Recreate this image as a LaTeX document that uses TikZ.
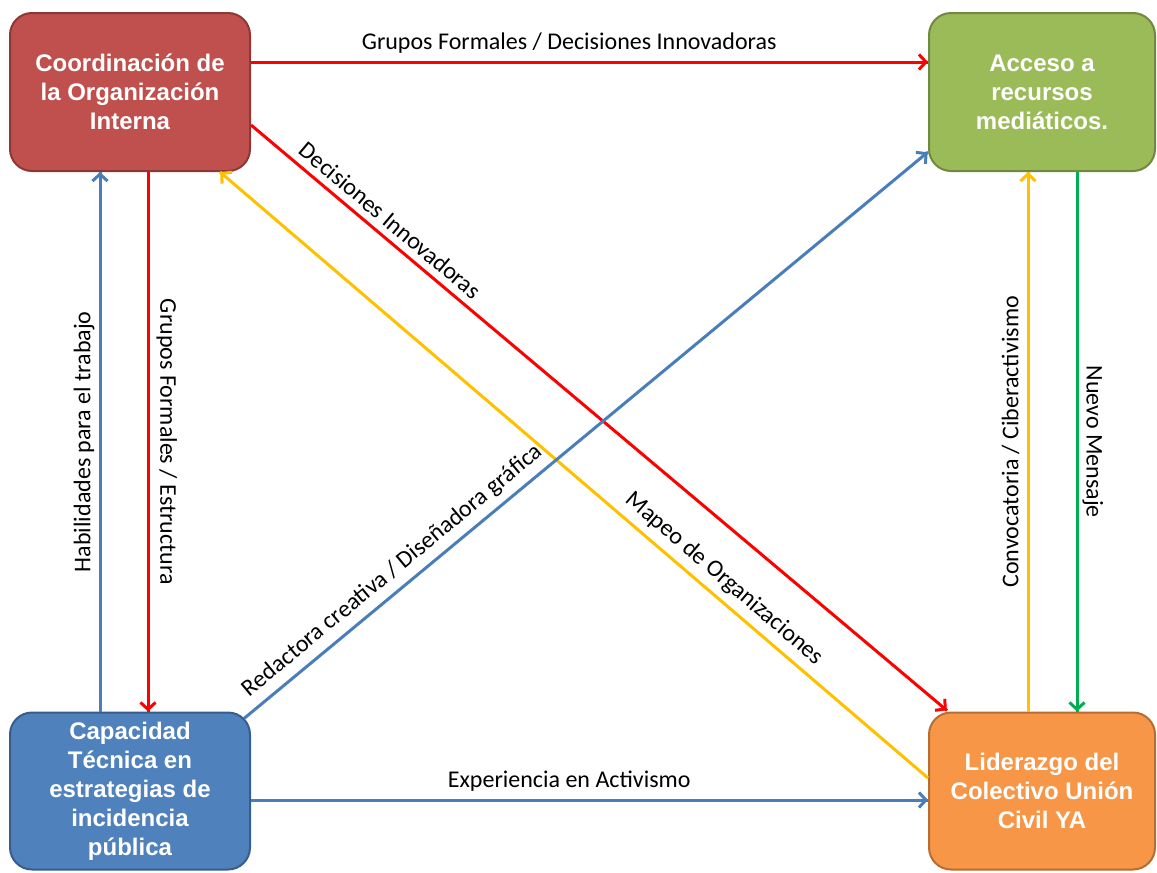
\documentclass[tikz,border=0pt]{standalone}
\usepackage{fontspec}
\setmainfont{Carlito}
\newfontfamily\cajafont{Liberation Sans}
\usetikzlibrary{arrows.meta}
\usetikzlibrary{decorations.markings}
\usetikzlibrary{positioning}
\definecolor{rojocaja}{HTML}{C0504D}
\definecolor{rojoborde}{HTML}{8C3836}
\definecolor{verdecaja}{HTML}{9BBB59}
\definecolor{verdeborde}{HTML}{71893F}
\definecolor{azulcaja}{HTML}{4F81BD}
\definecolor{azulborde}{HTML}{385D8A}
\definecolor{naranjacaja}{HTML}{F79646}
\definecolor{naranjaborde}{HTML}{B66D31}
\definecolor{rojo}{HTML}{FF0000}
\definecolor{azul}{HTML}{4A7EBB}
\definecolor{amarillo}{HTML}{FFC000}
\definecolor{verde}{HTML}{00B050}
\tikzset{->/.style = {decoration={markings,
                                  mark=at position 1 with {\arrow{Straight Barb[length=7pt,width=15pt]}}},
                      postaction={decorate}}}
\tikzset{caja/.style = {rectangle, rounded corners=22pt, draw, line width=2pt, text=white, align=center,
                        minimum height=158pt, font=\cajafont\bfseries\fontsize{24}{29}\selectfont}}
\tikzset{flujo/.style = {line width=3pt}}
\tikzset{etq/.style = {font=\fontsize{24}{29}\selectfont, text=black, inner sep=7pt}}

\begin{document}
\begin{tikzpicture}[x=1pt, y=-1pt]
    \useasboundingbox (0,0) rectangle (1157,873);

    \node [caja, fill=rojocaja, draw=rojoborde, minimum width=240pt] (coord) at (130, 92)
      {Coordinación de\\la Organización\\Interna};
    \node [caja, fill=verdecaja, draw=verdeborde, minimum width=226pt] (medios) at (1042, 92)
      {Acceso a\\recursos\\mediáticos.};
    \node [caja, fill=azulcaja, draw=azulborde, minimum width=240pt, minimum height=157pt] (tecnica) at (130, 791)
      {Capacidad\\Técnica en\\estrategias de\\incidencia\\pública};
    \node [caja, fill=naranjacaja, draw=naranjaborde, minimum width=226pt, minimum height=157pt] (liderazgo) at (1042, 791)
      {Liderazgo del\\Colectivo Unión\\Civil YA};

    % horizontales
    \draw [flujo, rojo, ->] ([yshift=30pt]coord.east) --
      node [etq, above, pos=.47] {Grupos Formales / Decisiones Innovadoras} ([yshift=30pt]medios.west);
    \draw [flujo, azul, ->] ([yshift=-9pt]tecnica.east) --
      node [etq, above, pos=.47] {Experiencia en Activismo} ([yshift=-9pt]liderazgo.west);

    % verticales
    \draw [flujo, rojo, ->] ([xshift=18pt]coord.south) --
      node [etq, sloped, above] {Grupos Formales / Estructura} ([xshift=18pt]tecnica.north);
    \draw [flujo, azul, ->] ([xshift=-30pt]tecnica.north) --
      node [etq, sloped, above, inner sep=4pt] {Habilidades para el trabajo} ([xshift=-30pt]coord.south);
    \draw [flujo, amarillo, ->] ([xshift=-14pt]liderazgo.north) --
      node [etq, sloped, above] {Convocatoria / Ciberactivismo} ([xshift=-14pt]medios.south);
    \draw [flujo, verde, ->] ([xshift=35pt]medios.south) --
      node [etq, sloped, above, inner sep=4pt] {Nuevo Mensaje} ([xshift=35pt]liderazgo.north);

    % diagonales
    \draw [flujo, rojo, ->] ([yshift=-33pt]coord.east) --
      node [etq, sloped, above, pos=.185] {Decisiones Innovadoras} ([xshift=19pt,yshift=1pt]liderazgo.north west);
    \draw [flujo, amarillo, ->] ([yshift=13pt]liderazgo.west) --
      node [etq, sloped, above, pos=.305] {Mapeo de Organizaciones} ([xshift=90pt]coord.south);
    \draw [flujo, azul, ->] ([xshift=-7pt,yshift=-7pt]tecnica.north east) --
      node [etq, sloped, above, pos=.235] {Redactora creativa / Diseñadora gráfica} ([yshift=-60pt]medios.west);
\end{tikzpicture}
\end{document}
